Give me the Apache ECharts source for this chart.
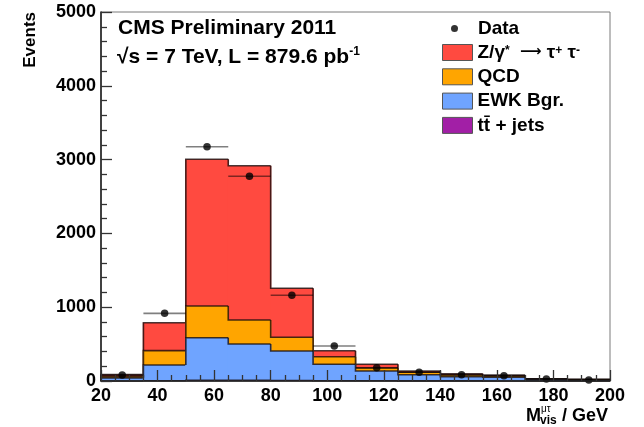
<!DOCTYPE html>
<html>
<head>
<meta charset="utf-8">
<script src="https://cdn.jsdelivr.net/npm/echarts@6/dist/echarts.min.js"></script>
<style>
  html, body { margin: 0; padding: 0; background: #ffffff; }
  #chart { width: 644px; height: 427px; }
</style>
</head>
<body>
<div id="chart"></div>
<script>
// Visible mass of the mu-tau pair, 15 GeV bins
const binEdges = [20, 35, 50, 65, 80, 95, 110, 125, 140, 155, 170, 185, 200];

// Observed events per bin
const dataCounts = [80, 917, 3175, 2774, 1161, 474, 180, 118, 85, 72, 27, 14];

// Expected contributions per bin (stacked bottom to top)
const ttbarJets = [1, 4, 8, 8, 6, 4, 3, 2, 2, 1, 1, 1];
const ewkBgr    = [42, 213, 579, 493, 401, 222, 133, 83, 56, 49, 18, 13];
const qcdBgr    = [22, 194, 429, 326, 185, 103, 40, 33, 23, 18, 7, 5];
const zTauTau   = [22, 379, 1988, 2090, 664, 81, 50, 18, 18, 13, 4, 3];

// Axis ticks
const xTicks = [20, 40, 60, 80, 100, 120, 140, 160, 180, 200];
const yTicks = [0, 1000, 2000, 3000, 4000, 5000];

const FONT = '"Liberation Sans", Arial, Helvetica, sans-serif';

const layers = [
  { name: 'tt + jets', values: ttbarJets, color: '#a21fa6' },
  { name: 'EWK Bgr.',  values: ewkBgr,    color: '#6fa4ff' },
  { name: 'QCD',       values: qcdBgr,    color: '#ffa500' },
  { name: 'Ztautau',   values: zTauTau,   color: '#ff4a40' }
];

// cumulative heights of the stack
const cumulative = [];
layers.forEach((layer, li) => {
  cumulative.push(layer.values.map((v, i) => v + (li > 0 ? cumulative[li - 1][i] : 0)));
});

function stepItems(tops) {
  return tops.map((top, i) => [
    binEdges[i], binEdges[i + 1], top,
    i > 0 ? tops[i - 1] : 0,
    i === tops.length - 1 ? 1 : 0
  ]);
}

const OUTLINE = 'rgba(20,10,10,0.78)';

function makeStepRender(color) {
  return function (params, api) {
    const x0 = api.value(0), x1 = api.value(1);
    const top = api.value(2), prev = api.value(3), last = api.value(4);
    const tl = api.coord([x0, top]);
    const br = api.coord([x1, 0]);
    const pv = api.coord([x0, prev]);
    // fill slightly past the bin edges so neighbouring bins leave no seam
    const children = [
      { type: 'rect',
        shape: { x: tl[0] - 0.6, y: tl[1], width: br[0] - tl[0] + 1.2, height: br[1] - tl[1] },
        style: { fill: color } },
      { type: 'polyline',
        shape: { points: [pv, tl, [br[0], tl[1]]] },
        style: { stroke: OUTLINE, lineWidth: 1.6, fill: null } }
    ];
    if (last) {
      children.push({ type: 'line',
        shape: { x1: br[0], y1: tl[1], x2: br[0], y2: br[1] },
        style: { stroke: OUTLINE, lineWidth: 1.6 } });
    }
    return { type: 'group', children: children };
  };
}

// Draw the tallest cumulative layer first so lower ones overlay it
const stackSeries = layers.slice().reverse().map((layer) => {
  const li = layers.indexOf(layer);
  return {
    type: 'custom',
    name: layer.name,
    renderItem: makeStepRender(layer.color),
    itemStyle: { color: layer.color, borderColor: '#444', borderWidth: 1 },
    encode: { x: [0, 1], y: [2, 3] },
    data: stepItems(cumulative[li]),
    z: 2,
    silent: true
  };
});

const binCenters = binEdges.slice(0, -1).map((e, i) => (e + binEdges[i + 1]) / 2);

const errorBarSeries = {
  type: 'custom',
  name: 'DataErr',
  renderItem: function (params, api) {
    const a = api.coord([api.value(0), api.value(2)]);
    const b = api.coord([api.value(1), api.value(2)]);
    return { type: 'line', shape: { x1: a[0], y1: a[1], x2: b[0], y2: b[1] },
             style: { stroke: 'rgba(0,0,0,0.5)', lineWidth: 1.6 } };
  },
  encode: { x: [0, 1], y: 2 },
  data: dataCounts.map((c, i) => [binEdges[i], binEdges[i + 1], c]),
  z: 3,
  silent: true
};

const dataSeries = {
  type: 'scatter',
  name: 'Data',
  symbol: 'circle',
  symbolSize: 7.5,
  itemStyle: { color: '#000000' },
  data: binCenters.map((x, i) => [x, dataCounts[i]]),
  z: 4,
  silent: true
};

const chart = echarts.init(document.getElementById('chart'), null, { renderer: 'canvas' });

const legendText = { fontFamily: FONT, fontWeight: 'bold', fontSize: 19, color: '#000', lineHeight: 16 };

chart.setOption({
  animation: false,
  backgroundColor: '#ffffff',
  grid: {
    left: 101, right: 34, top: 12, bottom: 46,
    show: true, borderColor: '#7a7a7a', borderWidth: 1,
    outerBoundsMode: 'none'
  },
  xAxis: {
    type: 'value',
    min: xTicks[0], max: xTicks[xTicks.length - 1], interval: xTicks[1] - xTicks[0],
    z: 10,
    axisLine: { show: true, onZero: false, lineStyle: { color: '#222', width: 1.6 } },
    axisTick: { show: true, inside: true, length: 11, lineStyle: { color: '#333', width: 1.3 } },
    minorTick: { show: true, splitNumber: 4, length: 6, lineStyle: { color: '#333', width: 1.3 } },
    splitLine: { show: false },
    axisLabel: { margin: 6, fontFamily: FONT, fontWeight: 'bold', fontSize: 18, color: '#000',
                 formatter: (v) => String(v) }
  },
  yAxis: {
    type: 'value',
    min: yTicks[0], max: yTicks[yTicks.length - 1], interval: yTicks[1] - yTicks[0],
    z: 10,
    axisLine: { show: true, lineStyle: { color: '#222', width: 1.6 } },
    axisTick: { show: true, inside: true, length: 11, lineStyle: { color: '#333', width: 1.3 } },
    minorTick: { show: true, splitNumber: 5, length: 6, lineStyle: { color: '#333', width: 1.3 } },
    splitLine: { show: false },
    axisLabel: { margin: 5, fontFamily: FONT, fontWeight: 'bold', fontSize: 18, color: '#000',
                 formatter: (v) => String(v) }
  },
  legend: [
    {
      selectedMode: false,
      padding: 0,
      left: 451, top: 19,
      itemWidth: 7, itemHeight: 7,
      data: [{ name: 'Data', icon: 'circle', itemStyle: { color: '#000' } }],
      formatter: function () { return '{d|Data}'; },
      textStyle: Object.assign({}, legendText, {
        rich: { d: Object.assign({}, legendText, { padding: [0, 0, 0, 15] }) }
      })
    },
    {
      selectedMode: false,
      padding: 0,
      orient: 'vertical',
      left: 442, top: 43,
      itemWidth: 30, itemHeight: 16, itemGap: 5.3,
      icon: 'rect',
      data: layers.slice().reverse().map((l) => ({
        name: l.name,
        itemStyle: { color: l.color, borderColor: '#555', borderWidth: 1 }
      })),
      formatter: function (name) {
        if (name === 'Ztautau') return '{b|Z/γ}{s|*}{a|  ⟶ }{n|τ}{s|+}{n| τ}{s|-}';
        if (name === 'tt + jets') return '{b|tt̄ + jets}';
        return '{b|' + name + '}';
      },
      textStyle: Object.assign({}, legendText, {
        rich: {
          b: Object.assign({}, legendText),
          a: { fontFamily: '"DejaVu Sans", sans-serif', fontSize: 15, color: '#000', lineHeight: 16 },
          n: { fontFamily: FONT, fontSize: 19, color: '#000', lineHeight: 16 },
          s: { fontFamily: FONT, fontSize: 12, color: '#000', lineHeight: 16, verticalAlign: 'top' }
        }
      })
    }
  ],
  graphic: [
    { type: 'text', left: 118, top: 18,
      style: { text: 'CMS Preliminary 2011', font: 'bold 21px ' + FONT, fill: '#000' } },
    { type: 'text', left: 117, top: 46,
      style: {
        text: '{m|√s = 7 TeV, L = 879.6 pb}{s|-1}',
        fill: '#000',
        rich: {
          m: { fontFamily: FONT, fontWeight: 'bold', fontSize: 21, lineHeight: 22 },
          s: { fontFamily: FONT, fontWeight: 'bold', fontSize: 12, lineHeight: 22, verticalAlign: 'top' }
        }
      } },
    { type: 'text', x: 30, y: 12, rotation: Math.PI / 2,
      style: { text: 'Events', font: 'bold 17px ' + FONT, fill: '#000',
               align: 'right', verticalAlign: 'middle' } },
    { type: 'text', x: 541, y: 416,
      style: { text: 'M', font: 'bold 18px ' + FONT, fill: '#000', align: 'right', verticalAlign: 'middle' } },
    { type: 'text', x: 541, y: 409,
      style: { text: 'μτ', font: '10px ' + FONT, fill: '#000', align: 'left', verticalAlign: 'middle' } },
    { type: 'text', x: 540, y: 421,
      style: { text: 'vis', font: 'bold 12px ' + FONT, fill: '#000', align: 'left', verticalAlign: 'middle' } },
    { type: 'text', x: 608, y: 416,
      style: { text: ' / GeV', font: 'bold 18px ' + FONT, fill: '#000', align: 'right', verticalAlign: 'middle' } }
  ],
  series: stackSeries.concat([errorBarSeries, dataSeries])
});
</script>
</body>
</html>
